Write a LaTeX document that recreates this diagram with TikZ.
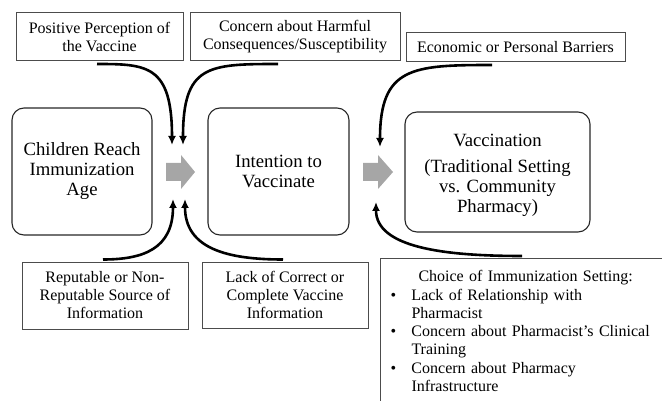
\documentclass[tikz,border=0pt]{standalone}
\usepackage{fontspec}
\setmainfont{Liberation Serif}
\usetikzlibrary{arrows.meta}

\newcommand{\bul}{\makebox[21pt][l]{\textbullet}}
\newcommand{\ind}{\hspace*{21pt}}

\begin{document}
\begin{tikzpicture}[x=1pt, y=1pt,
    factor/.style={draw=black!70, line width=1pt, align=center, inner sep=0pt, font=\fontsize{16}{18}\selectfont},
    stage/.style={draw=black!85, line width=1.1pt, rounded corners=12pt, align=center, inner sep=0pt, font=\fontsize{18.7}{20}\selectfont},
    feed/.style={line width=2.6pt, -{Latex[length=9pt,width=8pt]}},
    flow/.style={fill=black!35}]

\useasboundingbox (0,0) rectangle (662,-401);
\clip (0,0) rectangle (662,-401);

%%%%%%%%%%%%%%%%%%%%%%%%%%%%%%%%%%%%%%%%%%%%%%%%%%%%%%%%%%%%%%%%
% Stages
%%%%%%%%%%%%%%%%%%%%%%%%%%%%%%%%%%%%%%%%%%%%%%%%%%%%%%%%%%%%%%%%

\node [stage, minimum width=140pt, minimum height=127pt] (children) at (82,-171.5) {Children Reach\\Immunization\\Age};
\node [stage, minimum width=141pt, minimum height=127pt] (intention) at (278.5,-171.5) {Intention to\\Vaccinate};
\node [stage, minimum width=185pt, minimum height=120pt] (vaccination) at (497.5,-172) {\rule{0pt}{19pt}Vaccination\\[6pt](Traditional Setting\\vs. Community\\Pharmacy)};

% gray block arrows
\fill [flow] (166,-163) -- (181,-163) -- (181,-155) -- (195,-172) -- (181,-189) -- (181,-181) -- (166,-181) -- cycle;
\fill [flow] (363,-163) -- (378,-163) -- (378,-155) -- (393,-172) -- (378,-189) -- (378,-181) -- (363,-181) -- cycle;

%%%%%%%%%%%%%%%%%%%%%%%%%%%%%%%%%%%%%%%%%%%%%%%%%%%%%%%%%%%%%%%%
% Factors
%%%%%%%%%%%%%%%%%%%%%%%%%%%%%%%%%%%%%%%%%%%%%%%%%%%%%%%%%%%%%%%%

% top row
\node [factor, minimum width=167pt, minimum height=48pt] (perception) at (99.5,-37) {Positive Perception of\\the Vaccine};
\node [factor, minimum width=210pt, minimum height=48pt] (harmful) at (295,-37) {Concern about Harmful\\Consequences/Susceptibility};
\node [factor, minimum width=219pt, minimum height=29pt] (barriers) at (515.5,-47.5) {Economic or Personal Barriers};

% bottom row
\node [factor, minimum width=166pt, minimum height=67pt] (source) at (105,-295.5) {Reputable or Non-\\Reputable Source of\\Information};
\node [factor, minimum width=166pt, minimum height=66pt] (information) at (285,-295) {Lack of Correct or\\Complete Vaccine\\Information};
\node [factor, anchor=north west, align=left, text width=270pt, inner xsep=10pt, inner ysep=12pt, font=\fontsize{16}{18.3}\selectfont] (setting) at (380,-258) {%
    \hspace*{28pt}Choice of Immunization Setting:\\
    \bul Lack of Relationship with\\
    \ind Pharmacist\\
    \bul Concern about Pharmacist’s Clinical\\
    \ind Training\\
    \bul Concern about Pharmacy\\
    \ind Infrastructure};

%%%%%%%%%%%%%%%%%%%%%%%%%%%%%%%%%%%%%%%%%%%%%%%%%%%%%%%%%%%%%%%%
% Edges
%%%%%%%%%%%%%%%%%%%%%%%%%%%%%%%%%%%%%%%%%%%%%%%%%%%%%%%%%%%%%%%%

% arrow ends above and below the block arrows
\coordinate (in1) at (172,-145);
\coordinate (in2) at (183,-145);
\coordinate (in3) at (380,-147);
\coordinate (up1) at (173,-199);
\coordinate (up2) at (185,-199);
\coordinate (up3) at (376,-202);

% downward
\draw [feed] ([xshift=-2.5pt,yshift=-2.5pt]perception.south) .. controls +(50,0) and +(0,80) .. (in1);
\draw [feed] ([xshift=-17pt,yshift=-2.5pt]harmful.south) .. controls +(-70,0) and +(0,80) .. (in2);
\draw [feed] ([xshift=-23.5pt,yshift=-2.5pt]barriers.south) .. controls +(-80,0) and +(0,80) .. (in3);

% upward
\draw [feed] ([xshift=-2pt,yshift=2pt]source.north) .. controls +(40,0) and +(0,-50) .. (up1);
\draw [feed] ([xshift=-2pt,yshift=2pt]information.north) .. controls +(-55,0) and +(0,-50) .. (up2);
\draw [feed] ([xshift=142pt,yshift=2pt]setting.north west) .. controls +(-80,0) and +(0,-45) .. (up3);

\end{tikzpicture}
\end{document}
